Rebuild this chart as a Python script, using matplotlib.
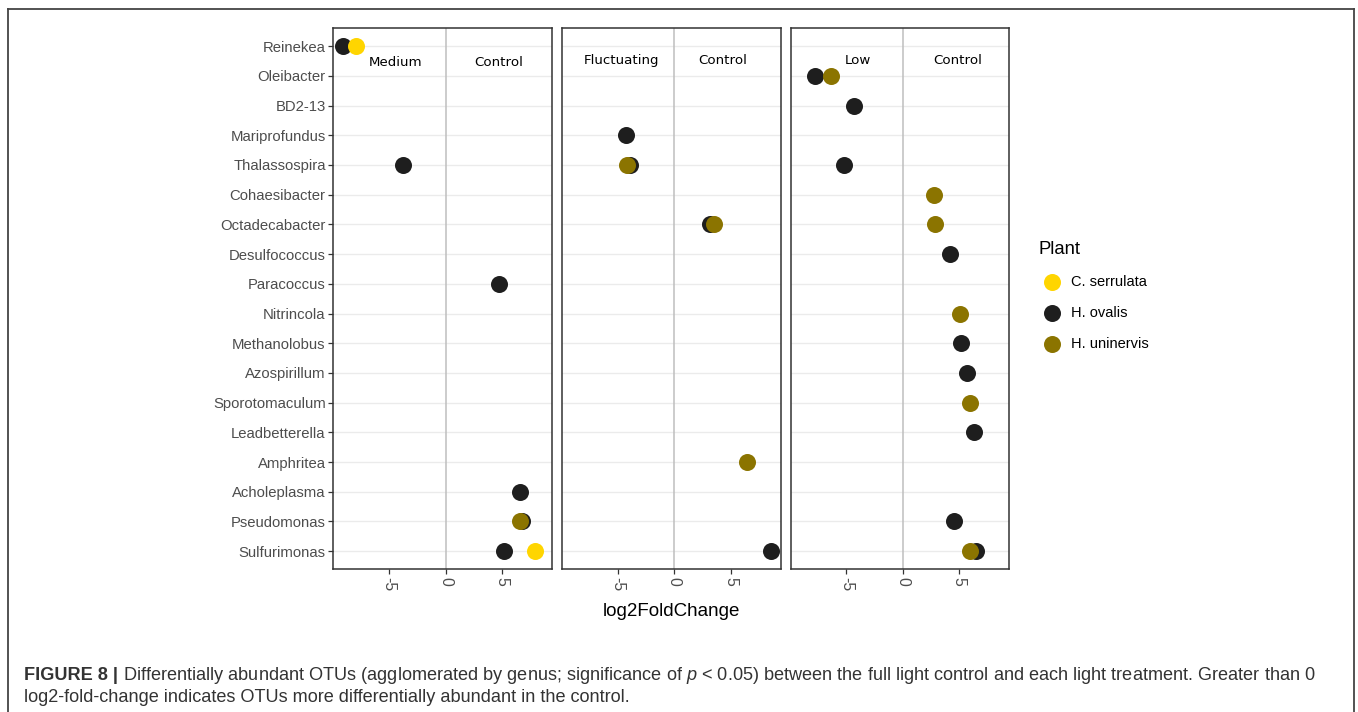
import matplotlib
matplotlib.use("Agg")
import matplotlib.pyplot as plt
from matplotlib.lines import Line2D

# ---------------- data ----------------
genera = ["Reinekea", "Oleibacter", "BD2-13", "Mariprofundus", "Thalassospira",
          "Cohaesibacter", "Octadecabacter", "Desulfococcus", "Paracoccus",
          "Nitrincola", "Methanolobus", "Azospirillum", "Sporotomaculum",
          "Leadbetterella", "Amphritea", "Acholeplasma", "Pseudomonas",
          "Sulfurimonas"]

plants = ["C. serrulata", "H. ovalis", "H. uninervis"]
plant_colors = ["#FFD500", "#1E1E1E", "#8B7400"]
draw_order = ["H. ovalis", "C. serrulata", "H. uninervis"]

treatments = ["Medium", "Fluctuating", "Low"]
control_label = "Control"

medium_genus = ["Reinekea", "Reinekea", "Thalassospira", "Paracoccus", "Acholeplasma",
                "Pseudomonas", "Pseudomonas", "Sulfurimonas", "Sulfurimonas"]
medium_plant = ["H. ovalis", "C. serrulata", "H. ovalis", "H. ovalis", "H. ovalis",
                "H. ovalis", "H. uninervis", "H. ovalis", "C. serrulata"]
medium_lfc = [-9.06, -7.9, -3.75, 4.7, 6.6, 6.75, 6.6, 5.2, 7.95]

fluct_genus = ["Mariprofundus", "Thalassospira", "Thalassospira", "Octadecabacter",
               "Octadecabacter", "Amphritea", "Sulfurimonas"]
fluct_plant = ["H. ovalis", "H. ovalis", "H. uninervis", "H. ovalis",
               "H. uninervis", "H. uninervis", "H. ovalis"]
fluct_lfc = [-4.3, -3.9, -4.2, 3.2, 3.5, 6.45, 8.55]

low_genus = ["Oleibacter", "Oleibacter", "BD2-13", "Thalassospira", "Cohaesibacter",
             "Octadecabacter", "Desulfococcus", "Nitrincola", "Methanolobus",
             "Azospirillum", "Sporotomaculum", "Leadbetterella", "Pseudomonas",
             "Sulfurimonas", "Sulfurimonas"]
low_plant = ["H. ovalis", "H. uninervis", "H. ovalis", "H. ovalis", "H. uninervis",
             "H. uninervis", "H. ovalis", "H. uninervis", "H. ovalis",
             "H. ovalis", "H. uninervis", "H. ovalis", "H. ovalis",
             "H. ovalis", "H. uninervis"]
low_lfc = [-7.75, -6.35, -4.3, -5.2, 2.8, 2.85, 4.15, 5.05, 5.15,
           5.65, 6.0, 6.35, 4.5, 6.45, 6.0]

# annotation positions (data units) for treatment / control labels
label_x = [(-4.4, 4.7), (-4.7, 4.3), (-4.0, 4.85)]
label_row = [0.56, 0.47, 0.49]
x_ticks = [-5, 0, 5]

caption_bold = "FIGURE 8 |"
caption_line1 = (" Differentially abundant OTUs (agglomerated by genus; significance of "
                 "$\\mathit{p}$ < 0.05) between the full light control and each light "
                 "treatment. Greater than 0")
caption_line2 = "log2-fold-change indicates OTUs more differentially abundant in the control."

# ---------------- style ----------------
W, H = 1358, 712
DPI = 100
SANS = "Liberation Sans"
plt.rcParams["font.family"] = [SANS, "DejaVu Sans"]
plt.rcParams["mathtext.fontset"] = "custom"
plt.rcParams["mathtext.rm"] = SANS
plt.rcParams["mathtext.it"] = SANS + ":italic"
plt.rcParams["mathtext.bf"] = SANS + ":bold"

fig = plt.figure(figsize=(W / DPI, H / DPI), dpi=DPI)
fig.patch.set_facecolor("white")


def rect(l, r, t, b):
    return [l / W, 1 - b / H, (r - l) / W, (b - t) / H]


panel_lefts = [333.3, 561.9, 790.5]
panel_w = 218.7
top_px, bot_px = 28.3, 569.0

all_lfc = medium_lfc + fluct_lfc + low_lfc
lo, hi = min(all_lfc), max(all_lfc)
pad = 0.05 * (hi - lo)
xlim = (lo - pad, hi + pad)
ylim = (len(genera) - 1 + 0.6, -0.6)
row_of = {g: i for i, g in enumerate(genera)}
color_of = dict(zip(plants, plant_colors))

panel_data = [(medium_genus, medium_plant, medium_lfc),
              (fluct_genus, fluct_plant, fluct_lfc),
              (low_genus, low_plant, low_lfc)]

legend_handles = {}
axes = []
for k, (gen, pl, lfc) in enumerate(panel_data):
    ax = fig.add_axes(rect(panel_lefts[k], panel_lefts[k] + panel_w, top_px, bot_px))
    axes.append(ax)
    ax.set_xlim(*xlim)
    ax.set_ylim(*ylim)
    ax.set_yticks(range(len(genera)))
    ax.grid(axis="y", color="#EBEBEB", lw=1.0, zorder=0)
    ax.set_axisbelow(True)
    ax.axvline(0, color="#BEBEBE", lw=1.1, zorder=1)
    for p in draw_order:
        xs = [v for v, q in zip(lfc, pl) if q == p]
        ys = [row_of[g] for g, q in zip(gen, pl) if q == p]
        if xs:
            sc = ax.scatter(xs, ys, s=150, color=color_of[p], linewidths=0,
                            zorder=3, label=p)
            legend_handles.setdefault(p, sc)
    t_lab, c_lab = treatments[k], control_label
    ax.text(label_x[k][0], label_row[k], t_lab, ha="center", va="center",
            fontsize=9.6, family="DejaVu Sans", color="black", zorder=4)
    ax.text(label_x[k][1], label_row[k], c_lab, ha="center", va="center",
            fontsize=9.6, family="DejaVu Sans", color="black", zorder=4)
    for sp in ax.spines.values():
        sp.set_color("#333333")
        sp.set_linewidth(1.1)
    ax.set_xticks(x_ticks)
    ax.set_xticklabels([str(t) for t in x_ticks], rotation=-90, va="top", ha="center")
    ax.tick_params(axis="x", direction="out", length=3.5, width=0.9, color="#333333",
                   labelcolor="#4D4D4D", labelsize=11.3, pad=2)
    if k == 0:
        ax.set_yticklabels(genera)
        ax.tick_params(axis="y", direction="out", length=3.5, width=0.9, color="#333333",
                       labelcolor="#4D4D4D", labelsize=10.7, pad=2)
    else:
        ax.tick_params(axis="y", length=0, labelleft=False)

# axis title
fig.text((panel_lefts[0] + panel_lefts[2] + panel_w) / 2 / W, 1 - 611 / H,
         "log2FoldChange", ha="center", va="center", fontsize=13.5, color="black")

# legend
hs = [legend_handles[p] for p in plants]
leg = fig.legend(hs, plants, loc="upper left", bbox_to_anchor=(1038 / W, 1 - 241 / H),
                 frameon=False, title="Plant", fontsize=10.5, title_fontsize=13.3,
                 alignment="left", handletextpad=0.35, labelspacing=1.17,
                 borderpad=0, borderaxespad=0, handlelength=1.92, scatterpoints=1)

# outer frame (figure box)
fc = "#444444"
fig.add_artist(Line2D([8 / W, 8 / W], [0, 1 - 9 / H], color=fc, lw=1.3))
fig.add_artist(Line2D([1354 / W, 1354 / W], [0, 1 - 9 / H], color=fc, lw=1.3))
fig.add_artist(Line2D([8 / W, 1354 / W], [1 - 9 / H, 1 - 9 / H], color=fc, lw=1.3))

# caption (fit first line width)
cap_fs = 12.0
cap_color = "#333333"
x0 = 24 / W
t_bold = fig.text(x0, 1 - 676 / H, caption_bold, ha="left", va="center",
                  fontsize=cap_fs, fontweight="bold", color=cap_color)
fig.canvas.draw()
r = fig.canvas.get_renderer()
bb = t_bold.get_window_extent(r)
t1 = fig.text(bb.x1 / W, 1 - 676 / H, caption_line1, ha="left", va="center",
              fontsize=cap_fs, color=cap_color)
fig.canvas.draw()
target_right = 1313
cur_right = t1.get_window_extent(r).x1
scale = (target_right - 24) / (cur_right - 24)
cap_fs2 = cap_fs * scale
t_bold.set_fontsize(cap_fs2)
fig.canvas.draw()
bb = t_bold.get_window_extent(r)
t1.set_fontsize(cap_fs2)
t1.set_x(bb.x1 / W)
fig.text(x0, 1 - 697 / H, caption_line2, ha="left", va="center",
         fontsize=cap_fs2, color=cap_color)

fig.savefig("out.png", dpi=DPI, facecolor="white")
